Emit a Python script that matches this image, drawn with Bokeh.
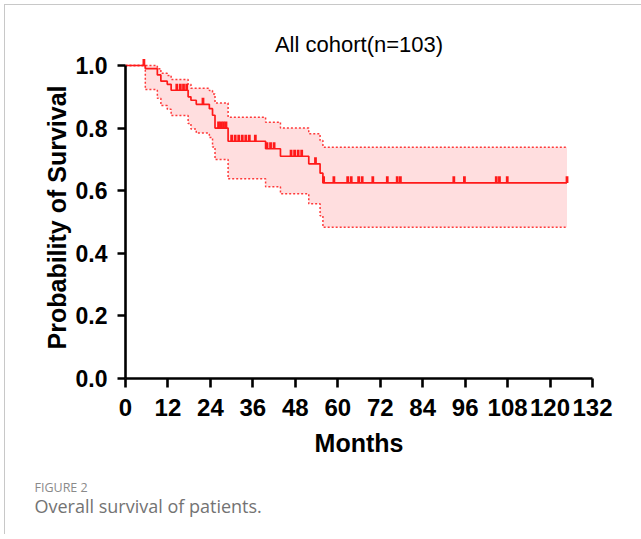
import bisect
from bokeh.plotting import figure
from bokeh.layouts import column
from bokeh.models import Range1d, FixedTicker, ColumnDataSource
from bokeh.core.properties import value
from bokeh.embed import file_html
from bokeh.resources import INLINE

# ---- data ----
event_times = [0, 5.6, 9.0, 10.0, 11.8, 12.9, 17.7, 18.5, 20.0, 23.7, 24.6, 25.3,
               29.0, 39.6, 43.8, 51.8, 55.0, 55.8]
survival = [1.0, 0.990, 0.970, 0.950, 0.940, 0.921, 0.900, 0.889, 0.876, 0.862,
            0.841, 0.800, 0.758, 0.734, 0.710, 0.686, 0.656, 0.625]
upper_ci = [1.0, 1.0, 0.990, 0.975, 0.968, 0.955, 0.940, 0.927, 0.927, 0.920,
            0.909, 0.880, 0.835, 0.819, 0.800, 0.782, 0.760, 0.739]
lower_ci = [1.0, 0.923, 0.895, 0.872, 0.860, 0.840, 0.815, 0.797, 0.784, 0.770,
            0.740, 0.700, 0.638, 0.613, 0.590, 0.558, 0.520, 0.483]
last_followup = 124.8
censor_times = [5.2, 14.5, 15.5, 16.4, 17.3, 21.9, 26.3, 27.0, 27.7, 28.4,
                30.0, 31.0, 32.0, 33.0, 34.0, 35.0, 36.7, 40.0, 41.0, 42.0,
                46.8, 47.8, 48.8, 49.8, 53.7, 56.0, 58.9, 62.8, 63.8, 65.9,
                66.9, 69.9, 74.0, 76.8, 77.7, 92.8, 95.8, 104.8, 105.7, 107.9,
                124.8]
x_ticks = [0, 12, 24, 36, 48, 60, 72, 84, 96, 108, 120, 132]
y_ticks = [0.0, 0.2, 0.4, 0.6, 0.8, 1.0]
y_tick_labels = ["0.0", "0.2", "0.4", "0.6", "0.8", "1.0"]

title_text = "All cohort(n=103)"
x_label = "Months"
y_label = "Probability of Survival"
fig_label = "FIGURE 2"
caption = "Overall survival of patients."

RED = "#FF1A1A"
BAND = "#FFDEDF"

# step arrays extended to last follow-up
xs = event_times + [last_followup]
s_vals = survival + [survival[-1]]
u_vals = upper_ci + [upper_ci[-1]]
l_vals = lower_ci + [lower_ci[-1]]

def surv_at(t):
    i = bisect.bisect_right(event_times, t) - 1
    return survival[i]

cens_s = [surv_at(t) for t in censor_times]
tick_h = 0.021
cens_src = ColumnDataSource(dict(x=censor_times, y0=cens_s,
                                 y1=[v + tick_h for v in cens_s]))

FONT = "'Liberation Sans', Arial, sans-serif"

W = 636
p = figure(width=W, height=475, output_backend="svg", toolbar_location=None,
           x_range=Range1d(0, 132), y_range=Range1d(0, 322 / 313),
           min_border_left=120, min_border_right=W - 587, min_border_top=51,
           min_border_bottom=102)
p.frame_align = False
p.outline_line_color = None
p.grid.visible = False
p.background_fill_color = "white"
p.border_fill_color = "white"

p.title.text = title_text
p.title.align = "center"
p.title.text_font = FONT
p.title.text_font_size = "22px"
p.title.text_font_style = "normal"
p.title.text_color = "black"
p.title.standoff = 0

# confidence band
p.varea_step(x=xs, y1=l_vals, y2=u_vals, step_mode="after",
             fill_color=BAND, fill_alpha=1.0)
p.step(x=xs, y=u_vals, mode="after", line_color=RED, line_alpha=0.85,
       line_width=1.5, line_dash="2 2")
p.step(x=xs, y=l_vals, mode="after", line_color=RED, line_alpha=0.85,
       line_width=1.5, line_dash="2 2")
# survival curve
p.step(x=xs, y=s_vals, mode="after", line_color=RED, line_width=1.7)
p.segment(x0="x", x1="x", y0="y0", y1="y1", source=cens_src,
          line_color=RED, line_width=2.8)

# axes
for ax in (p.xaxis[0], p.yaxis[0]):
    ax.axis_line_width = 2.6
    ax.axis_line_color = "black"
    ax.major_tick_line_width = 2.6
    ax.major_tick_line_color = "black"
    ax.minor_tick_line_color = None
    ax.major_tick_in = 0
    ax.axis_label_text_font_style = "bold"
    ax.major_label_text_font_style = "bold"
    ax.axis_label_text_color = "black"
    ax.major_label_text_color = "black"

xa = p.xaxis[0]
xa.ticker = FixedTicker(ticks=x_ticks)
xa.bounds = (0, 132)
xa.major_tick_out = 9
xa.major_label_standoff = 11
xa.major_label_text_font = FONT
xa.major_label_text_font_size = "24px"
xa.axis_label = x_label
xa.axis_label_text_font = FONT
xa.axis_label_text_font_size = "25px"
xa.axis_label_standoff = 10

ya = p.yaxis[0]
ya.ticker = FixedTicker(ticks=y_ticks)
ya.major_label_overrides = {t: l for t, l in zip(y_ticks, y_tick_labels)}
ya.bounds = (0, 1)
ya.major_tick_out = 8
ya.major_label_standoff = 10
ya.major_label_text_font = FONT
ya.major_label_text_font_size = "23px"
ya.axis_label = y_label
ya.axis_label_text_font = FONT
ya.axis_label_text_font_size = "25px"
ya.axis_label_standoff = 2

# caption strip below the chart
cap = figure(width=W, height=54, output_backend="svg", toolbar_location=None,
             x_range=Range1d(0, W), y_range=Range1d(54, 0),
             x_axis_type=None, y_axis_type=None, min_border=0)
cap.frame_align = False
cap.outline_line_color = None
cap.grid.visible = False
cap.text(x=[29], y=[7], text=[fig_label], text_align="left",
         text_baseline="middle", text_font=value("Open Sans"),
         text_font_size="12.5px", text_color="#8a8a8a")
cap.text(x=[29], y=[25], text=[caption], text_align="left",
         text_baseline="middle", text_font=value("Open Sans"),
         text_font_size="18px", text_color="#737373")

layout = column(p, cap, spacing=0,
                styles={"margin-left": "4px", "margin-top": "4px",
                        "border-left": "1px solid #c8c8c8",
                        "border-top": "1px solid #c8c8c8"})

open("out.html", "w").write(file_html(layout, INLINE))
